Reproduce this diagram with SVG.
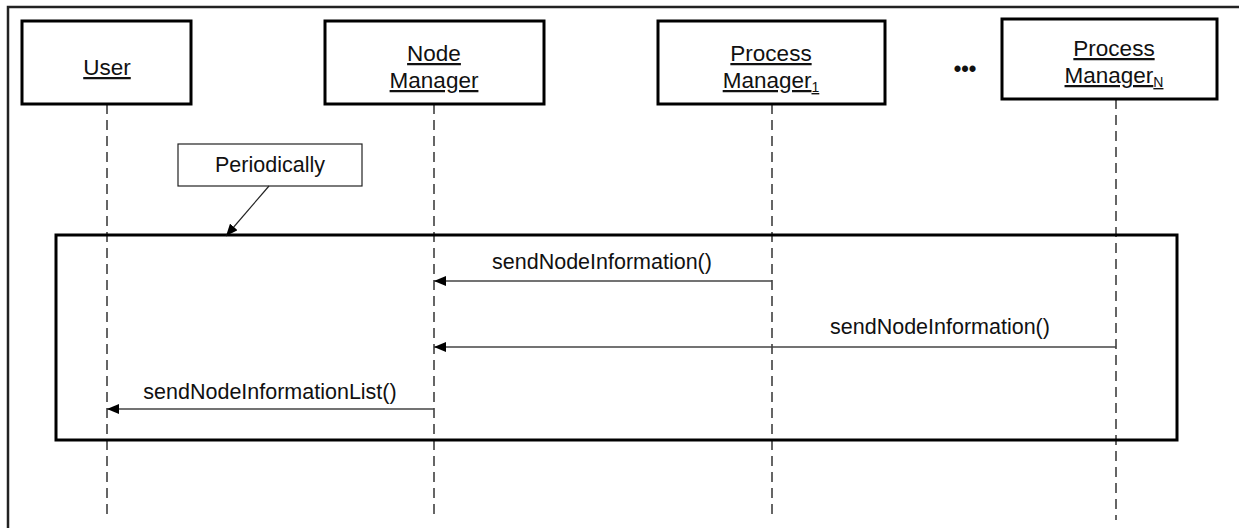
<svg xmlns="http://www.w3.org/2000/svg" width="1239" height="528" viewBox="0 0 1239 528">
<style>
.box{fill:#fff;stroke:#000;stroke-width:3}
.t{font-family:"Liberation Sans",Arial,sans-serif;font-size:21.5px;fill:#111;text-anchor:middle}
.h{font-size:22.5px}
.u{text-decoration:underline}
.life{stroke:#333;stroke-width:1.5;stroke-dasharray:10 6;fill:none}
.msg{stroke:#444;stroke-width:1.4;fill:none;marker-end:url(#ah)}
</style>
<defs>
<marker id="ah" markerWidth="12" markerHeight="10" refX="12" refY="5" orient="auto" markerUnits="userSpaceOnUse">
<path d="M0,0 L12,5 L0,10 Z" fill="#000"/>
</marker>
</defs>
<rect width="1239" height="528" fill="#fff"/>
<path d="M8,528 V7 H1239" fill="none" stroke="#222" stroke-width="2.5"/>
<g id="lifelines">
<line class="life" x1="107" y1="104" x2="107" y2="520"/>
<line class="life" x1="434" y1="104" x2="434" y2="520"/>
<line class="life" x1="772" y1="104" x2="772" y2="520"/>
<line class="life" x1="1116" y1="99" x2="1116" y2="520"/>
</g>
<g id="user">
<rect class="box" x="22" y="21" width="169" height="83"/>
<text class="t h u" x="107" y="75">User</text>
</g>
<g id="nodemanager">
<rect class="box" x="325" y="21" width="219" height="83"/>
<text class="t h u" x="434" y="61">Node</text>
<text class="t h u" x="434" y="88">Manager</text>
</g>
<g id="pm1">
<rect class="box" x="658" y="21" width="227" height="83"/>
<text class="t h u" x="771" y="61">Process</text>
<text class="t h u" x="771" y="88">Manager<tspan font-size="14" dy="4">1</tspan></text>
</g>
<g id="pmn">
<rect class="box" x="1002" y="19" width="215" height="80"/>
<text class="t h u" x="1114" y="56">Process</text>
<text class="t h u" x="1114" y="83">Manager<tspan font-size="14" dy="4">N</tspan></text>
</g>
<g id="dots">
<text class="t" x="965" y="76" font-size="32" font-weight="bold">•••</text>
</g>
<g id="periodically">
<rect x="178" y="144" width="184" height="42" fill="#fff" stroke="#222" stroke-width="1.2"/>
<text class="t" x="270" y="172">Periodically</text>
</g>
<g id="loop">
<rect x="56" y="235" width="1121" height="205" fill="none" stroke="#000" stroke-width="3"/>
</g>
<g id="connectors">
<line x1="269" y1="186" x2="226" y2="236" stroke="#222" stroke-width="1.2" marker-end="url(#ah)"/>
<line class="msg" x1="772" y1="281" x2="434" y2="281"/>
<line class="msg" x1="1116" y1="347" x2="434" y2="347"/>
<line class="msg" x1="434" y1="409" x2="107" y2="409"/>
<text class="t" x="602" y="269">sendNodeInformation()</text>
<text class="t" x="940" y="334">sendNodeInformation()</text>
<text class="t" x="270" y="399">sendNodeInformationList()</text>
</g>
</svg>
